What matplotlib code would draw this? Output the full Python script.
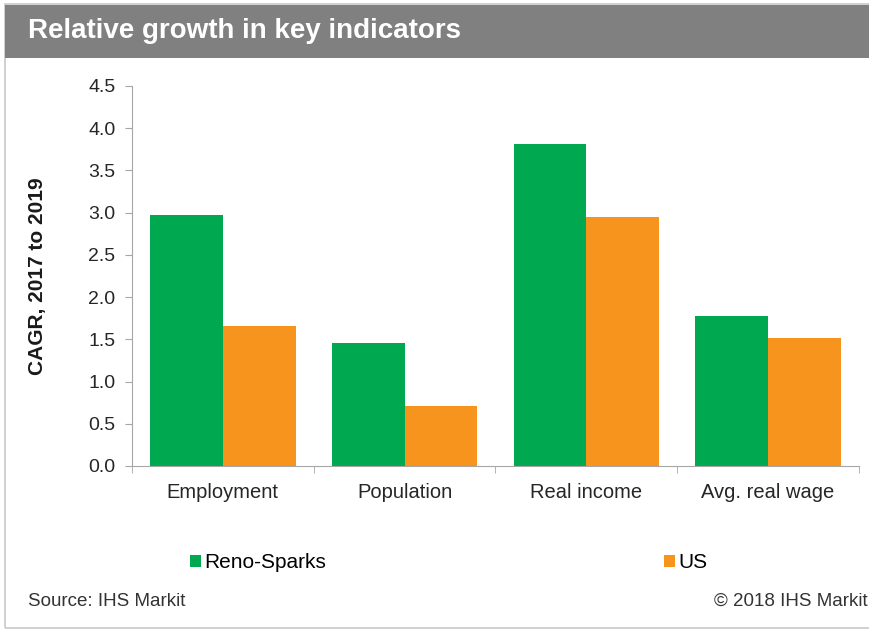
import numpy as np
import matplotlib.pyplot as plt
from matplotlib.patches import Rectangle

plt.rcParams['font.family'] = ['Liberation Sans', 'DejaVu Sans']

categories = ['Employment', 'Population', 'Real income', 'Avg. real wage']
reno_sparks = [2.97, 1.46, 3.81, 1.78]
us = [1.66, 0.71, 2.95, 1.52]
yticks = [0.0, 0.5, 1.0, 1.5, 2.0, 2.5, 3.0, 3.5, 4.0, 4.5]

green = '#00a84f'
orange = '#f7941d'
axis_grey = '#a6a6a6'
text_col = '#262626'

fig = plt.figure(figsize=(8.7, 6.32), dpi=100)

# frame and title band
fig.patches.append(Rectangle((5 / 870, 4 / 632), 870 / 870, 624 / 632,
                             transform=fig.transFigure, fill=False,
                             edgecolor='#c8c8c8', linewidth=1.2))
fig.patches.append(Rectangle((5 / 870, 1 - 58 / 632), 1, 53 / 632,
                             transform=fig.transFigure, facecolor='#808080',
                             edgecolor='none'))
fig.text(28 / 870, 1 - 31 / 632, 'Relative growth in key indicators',
         color='white', fontsize=20, fontweight='bold', va='center', ha='left')

ax = fig.add_axes([132 / 870, 1 - 466 / 632, (859 - 132) / 870, (466 - 86) / 632])
x = np.arange(len(categories))
w = 0.4
ax.bar(x - w / 2, reno_sparks, w, color=green, label='Reno-Sparks')
ax.bar(x + w / 2, us, w, color=orange, label='US')

ax.set_xlim(-0.5, len(categories) - 0.5)
ax.set_ylim(0, 4.5)
ax.set_yticks(yticks)
ax.set_yticklabels([f'{v:.1f}' for v in yticks], fontsize=14, color=text_col)
ax.set_xticks(x)
ax.set_xticklabels(categories, fontsize=14.5, color=text_col)
ax.tick_params(axis='x', length=0, pad=12)
ax.set_xticks(np.arange(len(categories) + 1) - 0.5, minor=True)
ax.tick_params(axis='x', which='minor', length=5, color=axis_grey)
ax.tick_params(axis='y', length=5, color=axis_grey, pad=7)
for s in ['top', 'right']:
    ax.spines[s].set_visible(False)
for s in ['left', 'bottom']:
    ax.spines[s].set_color(axis_grey)
ax.set_ylabel('CAGR, 2017 to 2019', fontsize=15, fontweight='bold', color='#1a1a1a')
ax.yaxis.set_label_coords((47 - 132) / 727, 0.5)

# legend, placed as in the source
handles, labels = ax.get_legend_handles_labels()
fig.legend(handles[:1], labels[:1], loc='center left', frameon=False,
           bbox_to_anchor=(171 / 870, 1 - 563 / 632), fontsize=15,
           handlelength=0.55, handleheight=0.55, handletextpad=0.15)
fig.legend(handles[1:], labels[1:], loc='center left', frameon=False,
           bbox_to_anchor=(645 / 870, 1 - 563 / 632), fontsize=15,
           handlelength=0.55, handleheight=0.55, handletextpad=0.15)

fig.text(28 / 870, 1 - 601 / 632, 'Source: IHS Markit', fontsize=13.5,
         color='#333333', va='center', ha='left')
fig.text(868 / 870, 1 - 601 / 632, '© 2018 IHS Markit', fontsize=13.5,
         color='#333333', va='center', ha='right')

fig.savefig('out.png', dpi=100)
